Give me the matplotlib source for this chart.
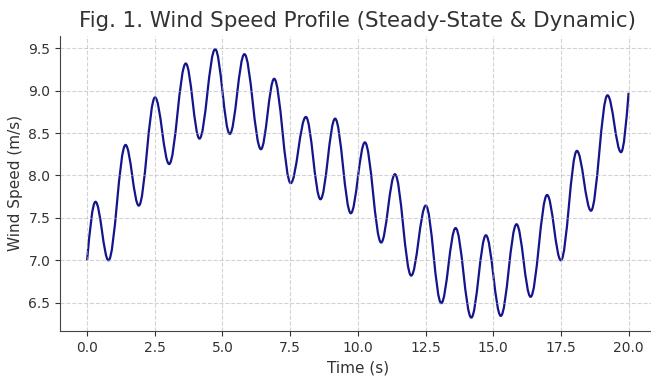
import matplotlib
matplotlib.use("Agg")
import matplotlib.pyplot as plt
from matplotlib.path import Path
from matplotlib.patches import PathPatch
import numpy as np

# turning points of the wind speed curve (start, peaks/troughs, end)
t_pts = [0.0, 0.31, 0.79, 1.42, 1.91, 2.51, 3.03, 3.645, 4.15, 4.73, 5.27, 5.81,
         6.42, 6.91, 7.52, 8.08, 8.62, 9.16, 9.74, 10.26, 10.86, 11.37, 11.97,
         12.51, 13.08, 13.61, 14.19, 14.73, 15.28, 15.86, 16.38, 16.99, 17.50,
         18.09, 18.61, 19.22, 19.72, 20.0]
v_pts = [7.00, 7.69, 7.00, 8.36, 7.645, 8.92, 8.135, 9.32, 8.435, 9.49, 8.49, 9.43,
         8.31, 9.14, 7.91, 8.69, 7.72, 8.67, 7.555, 8.39, 7.21, 8.015, 6.82,
         7.645, 6.495, 7.38, 6.325, 7.295, 6.345, 7.425, 6.57, 7.77, 7.00,
         8.29, 7.585, 8.945, 8.275, 8.975]

fig = plt.figure(figsize=(6.51, 3.76), dpi=100)
ax = fig.add_axes([0.0922, 0.1197, 0.915, 0.7854])

# smooth curve through the turning points (flat tangent at each peak/trough)
k = 0.3634
verts = [(t_pts[0], v_pts[0])]
codes = [Path.MOVETO]
n = len(t_pts)
for i in range(n - 1):
    t0, v0, t1, v1 = t_pts[i], v_pts[i], t_pts[i + 1], v_pts[i + 1]
    h = t1 - t0
    if i == 0:
        c1 = (t0 + 0.326 * h, v0 + 0.512 * (v1 - v0))
        c2 = (t0 + 0.638 * h, v1)
    elif i == n - 2:
        c1 = (t0 + 0.362 * h, v0)
        c2 = (t1 - 0.326 * h, v1 - 0.512 * (v1 - v0))
    else:
        c1 = (t0 + k * h, v0)
        c2 = (t1 - k * h, v1)
    verts += [c1, c2, (t1, v1)]
    codes += [Path.CURVE4] * 3
ax.add_patch(PathPatch(Path(verts, codes), fill=False, edgecolor='#14148c', lw=1.6))

pad = 0.05 * (max(v_pts) - min(v_pts))
ax.set_ylim(min(v_pts) - pad, max(v_pts) + pad)
ax.set_xlim(-1.0, 21.0)
ax.set_xticks(np.arange(0, 20.1, 2.5))

ax.grid(True, linestyle='--', alpha=0.55)
ax.spines['top'].set_visible(False)
ax.spines['right'].set_visible(False)
for s in ['left', 'bottom']:
    ax.spines[s].set_color('#444444')
ax.tick_params(colors='#333333', labelsize=10)

ax.set_xlabel('Time (s)', fontsize=11, color='#333333')
ax.set_ylabel('Wind Speed (m/s)', fontsize=11, color='#333333')
ax.set_title('Fig. 1. Wind Speed Profile (Steady-State & Dynamic)', fontsize=15.4, color='#333333')

fig.savefig('out.png', dpi=100)
